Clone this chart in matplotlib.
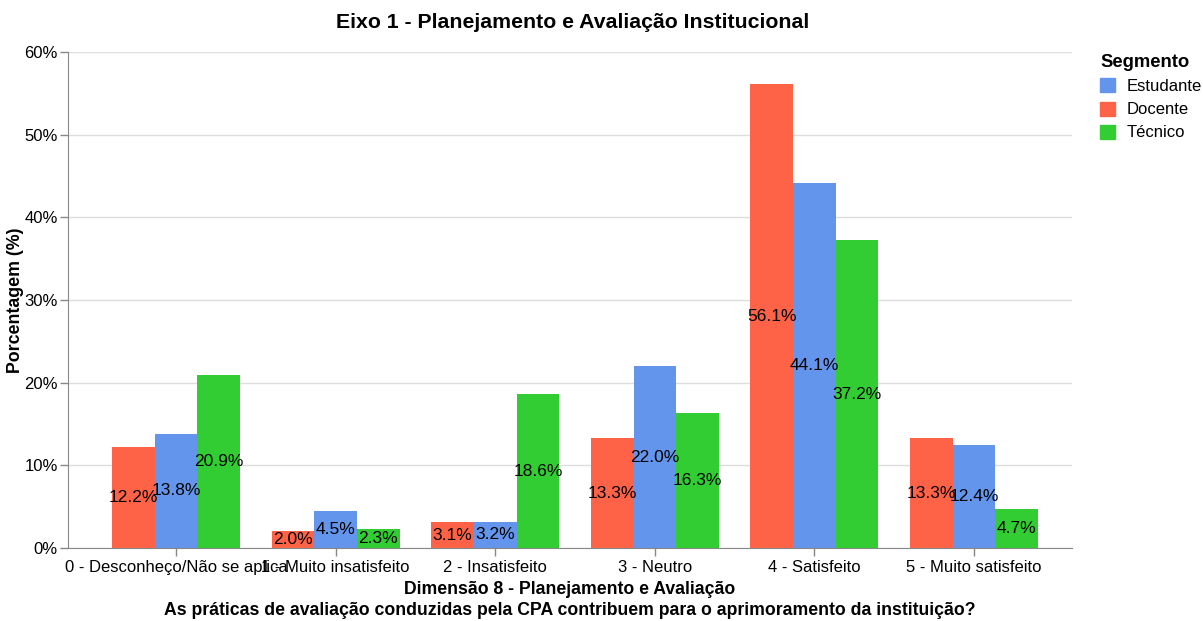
import numpy as np
import matplotlib.pyplot as plt
from matplotlib.patches import Patch

plt.rcParams['font.family'] = ['Liberation Sans', 'DejaVu Sans']

# data
categorias = ['0 - Desconheço/Não se aplica', '1 - Muito insatisfeito', '2 - Insatisfeito',
              '3 - Neutro', '4 - Satisfeito', '5 - Muito satisfeito']
docente = [12.2, 2.0, 3.1, 13.3, 56.1, 13.3]
estudante = [13.8, 4.5, 3.2, 22.0, 44.1, 12.4]
tecnico = [20.9, 2.3, 18.6, 16.3, 37.2, 4.7]
y_ticks = [0, 10, 20, 30, 40, 50, 60]

cor_est = '#6495ED'
cor_doc = '#FF6347'
cor_tec = '#32CD32'

fig = plt.figure(figsize=(12.03, 6.21), dpi=100)
ax = fig.add_axes([68 / 1203, 1 - 548 / 621, (1072 - 68) / 1203, (548 - 52) / 621])

x = np.arange(len(categorias))
w = 0.267
series = [(docente, cor_doc, -w), (estudante, cor_est, 0), (tecnico, cor_tec, w)]
for vals, cor, off in series:
    ax.bar(x + off, vals, width=w, color=cor, zorder=2)
for vals, cor, off in series:
    for xi, v in zip(x, vals):
        ax.text(xi + off, v / 2, f'{v:.1f}%', ha='center', va='center', fontsize=12.5, zorder=3)

ax.set_xlim(-0.677, 5.614)
ax.set_ylim(0, 60)
ax.set_yticks(y_ticks)
ax.set_yticklabels([f'{t}%' for t in y_ticks])
ax.set_xticks(x)
ax.set_xticklabels(categorias)
ax.tick_params(axis='both', labelsize=12, color='#888888', length=5.8, width=1)
ax.tick_params(axis='x', pad=2.5)
ax.tick_params(axis='y', pad=1.5)
ax.grid(axis='y', color='#dddddd', linewidth=1, zorder=0)
for s in ['top', 'right']:
    ax.spines[s].set_visible(False)
for s in ['left', 'bottom']:
    ax.spines[s].set_color('#888888')

ax.set_ylabel('Porcentagem (%)', fontsize=12.8, fontweight='bold')
ax.yaxis.set_label_coords(-0.044, 0.5)
ax.set_xlabel('Dimensão 8 - Planejamento e Avaliação\n'
              'As práticas de avaliação conduzidas pela CPA contribuem para o aprimoramento da instituição?',
              fontsize=12.7, fontweight='bold', labelpad=5, linespacing=1.3)
fig.text(573 / 1203, 1 - 23 / 621, 'Eixo 1 - Planejamento e Avaliação Institucional',
         ha='center', va='center', fontsize=15.3, fontweight='bold')

handles = [Patch(color=cor_est), Patch(color=cor_doc), Patch(color=cor_tec)]
leg = fig.legend(handles, ['Estudante', 'Docente', 'Técnico'], title='Segmento',
                 loc='upper left', bbox_to_anchor=(1100 / 1203, 1 - 54 / 621),
                 frameon=False, fontsize=12, title_fontproperties={'weight': 'bold', 'size': 13.3},
                 handlelength=0.9, handleheight=0.9, handletextpad=0.7, labelspacing=0.45,
                 alignment='left', borderaxespad=0, borderpad=0)

fig.savefig('out.png', dpi=100)
